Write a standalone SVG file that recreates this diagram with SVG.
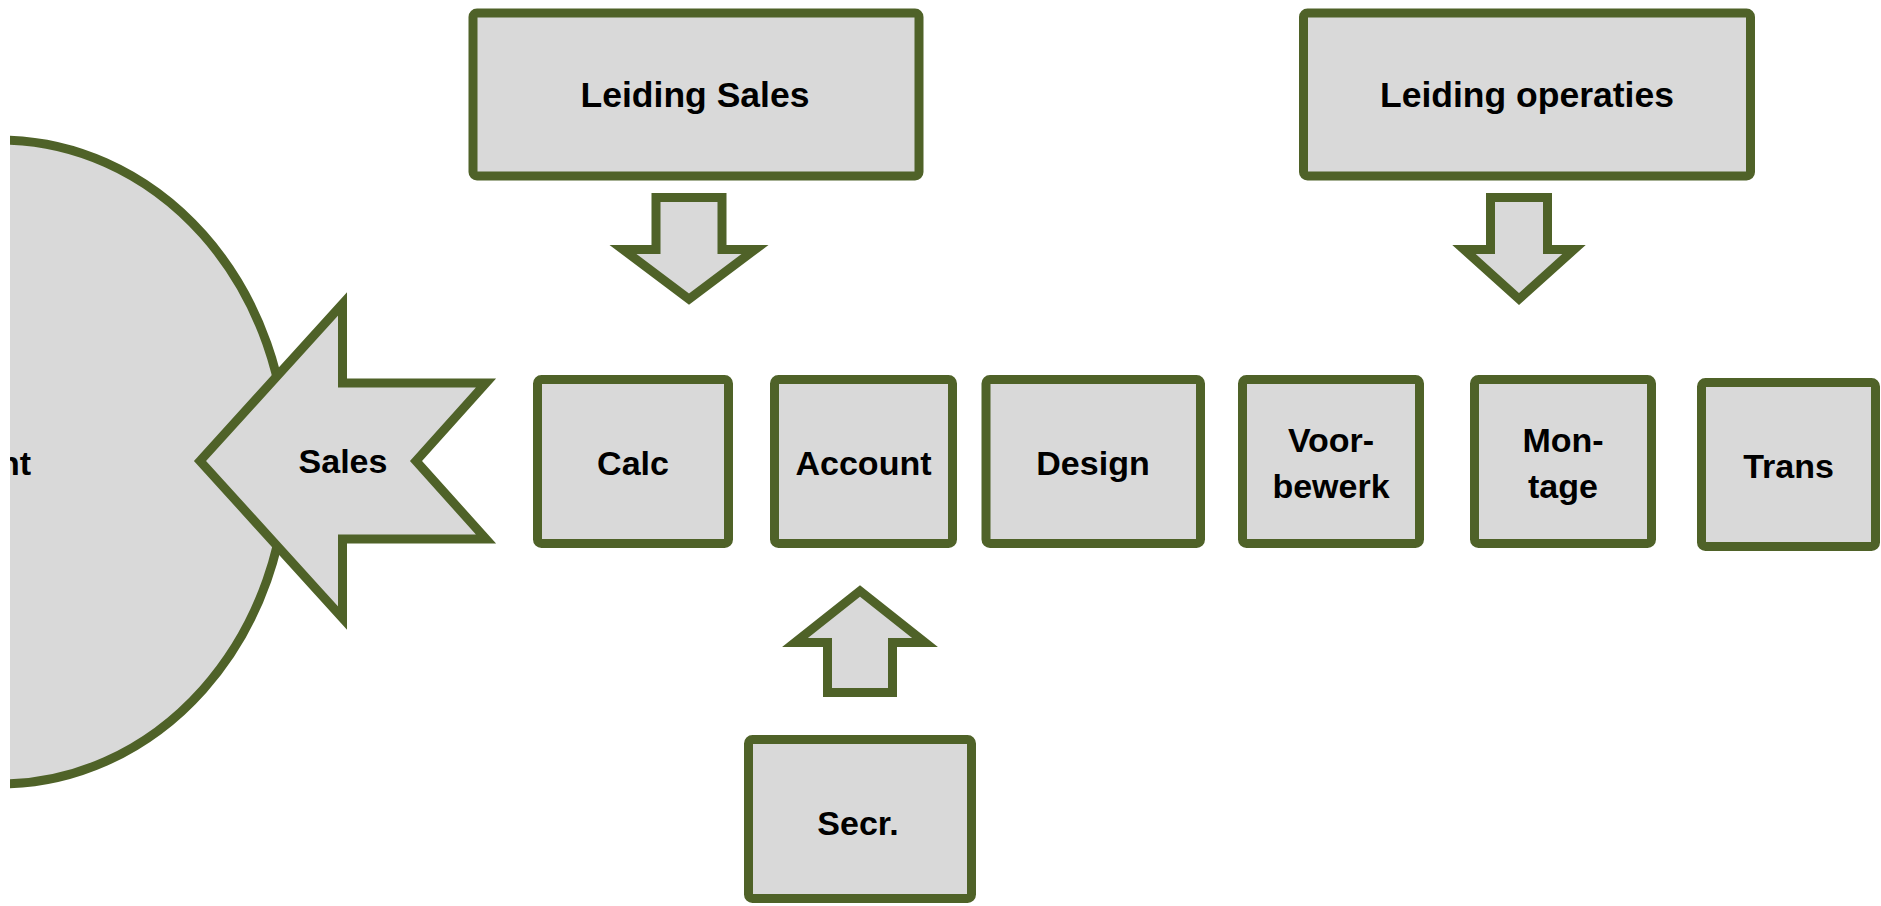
<svg xmlns="http://www.w3.org/2000/svg" width="1881" height="906" viewBox="0 0 1881 906">
<style>
.shape{fill:#D9D9D9;stroke:#4F6228;stroke-width:9;stroke-linejoin:miter;stroke-miterlimit:10}
.lbl{font-family:"Liberation Sans",Arial,sans-serif;font-weight:bold;font-size:34px;fill:#000;text-anchor:middle}
.big{font-size:35.5px}
</style>
<defs>
<clipPath id="leftclip"><rect x="10" y="0" width="1871" height="906"/></clipPath>
</defs>
<rect x="0" y="0" width="1881" height="906" fill="#FFFFFF"/>
<g id="klant" clip-path="url(#leftclip)">
<ellipse class="shape" cx="0" cy="462" rx="287" ry="322"/>
<text class="lbl" x="31" y="475" style="text-anchor:end">nt</text>
</g>
<g id="sales">
<polygon class="shape" points="200,461 342.5,304 342.5,383 486,383 416,461 486,539 342.5,539 342.5,618"/>
<text class="lbl" x="343" y="473">Sales</text>
</g>
<g id="leiding-sales">
<rect class="shape" x="473" y="13" width="446" height="163" rx="4"/>
<text class="lbl big" x="695" y="107">Leiding Sales</text>
</g>
<g id="leiding-operaties">
<rect class="shape" x="1303.5" y="13" width="447" height="163" rx="4"/>
<text class="lbl big" x="1527" y="107">Leiding operaties</text>
</g>
<g id="calc">
<rect class="shape" x="537.5" y="379.5" width="191" height="164" rx="4"/>
<text class="lbl" x="633" y="475">Calc</text>
</g>
<g id="account">
<rect class="shape" x="774.5" y="379.5" width="178" height="164" rx="4"/>
<text class="lbl" x="863.5" y="475">Account</text>
</g>
<g id="design">
<rect class="shape" x="986" y="379.5" width="214.5" height="164" rx="4"/>
<text class="lbl" x="1093" y="475">Design</text>
</g>
<g id="voorbewerk">
<rect class="shape" x="1242.5" y="379.5" width="177" height="164" rx="4"/>
<text class="lbl" x="1331" y="452">Voor-</text>
<text class="lbl" x="1331" y="498">bewerk</text>
</g>
<g id="montage">
<rect class="shape" x="1474.5" y="379.5" width="177" height="164" rx="4"/>
<text class="lbl" x="1563" y="452">Mon-</text>
<text class="lbl" x="1563" y="498">tage</text>
</g>
<g id="trans">
<rect class="shape" x="1701.5" y="382.5" width="174" height="164" rx="4"/>
<text class="lbl" x="1788.5" y="478">Trans</text>
</g>
<g id="secr">
<rect class="shape" x="748.5" y="739.5" width="223" height="159" rx="4"/>
<text class="lbl" x="858" y="835">Secr.</text>
</g>
<g id="connectors">
<polygon class="shape" points="656,197.5 722,197.5 722,249.5 755,249.5 689,299 623,249.5 656,249.5"/>
<polygon class="shape" points="1490.5,197.5 1547.5,197.5 1547.5,249.5 1574,249.5 1519,299 1464,249.5 1490.5,249.5"/>
<polygon class="shape" points="827.5,692.5 892.5,692.5 892.5,642.5 925,642.5 860,591 795,642.5 827.5,642.5"/>
</g>
</svg>
